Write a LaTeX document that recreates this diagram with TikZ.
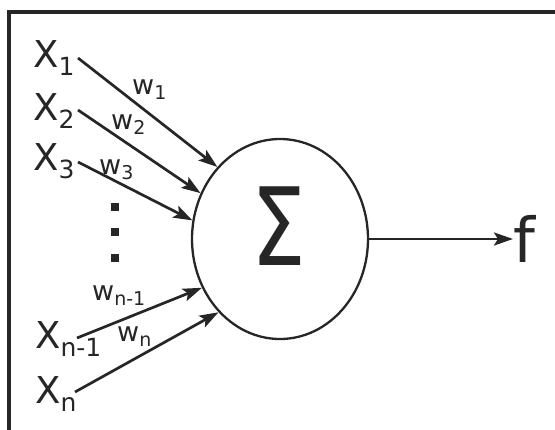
\documentclass[tikz,border=0pt]{standalone}
\usepackage{fontspec}
\setmainfont{DejaVu Sans}
\usetikzlibrary{shapes.geometric,arrows.meta}
\newcommand\lsub[1]{\raisebox{-0.24em}{\fontsize{25}{25}\selectfont #1}}
\newcommand\wsub[1]{\raisebox{-0.22em}{\fontsize{19}{19}\selectfont #1}}
\definecolor{ink}{HTML}{262626}
\begin{document}
\begin{tikzpicture}[x=1pt,y=-1pt,
  lbl/.style={inner sep=0, anchor=base west, text=ink, font=\fontsize{37}{37}\selectfont},
  wl/.style={inner sep=0, anchor=base west, text=ink, font=\fontsize{27}{27}\selectfont},
  con/.style={draw=ink, line width=2.7pt, -{Stealth[length=19pt,width=13pt,inset=4pt]}},
  dotbox/.style={fill=ink, inner sep=0, minimum size=8pt},
]
\useasboundingbox (0,0) rectangle (555,429);
\clip (0,0) rectangle (555,429);
\draw[draw=ink, line width=3.2pt] (9,12) rectangle (580,450);

\node[ellipse, draw=ink, line width=2.3pt, minimum width=176pt, minimum height=200pt, inner sep=0] (s) at (280,239) {};
\node[inner sep=0, text=ink, font=\fontsize{108}{108}\selectfont] (sig) at (279,226) {\scalebox{0.8}[1]{Σ}};

\node[lbl] (x1) at (33,67) {X\lsub{1}};
\node[lbl] (x2) at (33,120) {X\lsub{2}};
\node[lbl] (x3) at (33,170) {X\lsub{3}};
\node[lbl] (xn1) at (35,348) {X\lsub{n-1}};
\node[lbl] (xn) at (35,403) {X\lsub{n}};

\node[wl] (w1) at (132,94) {w\wsub{1}};
\node[wl] (w2) at (111,129) {w\wsub{2}};
\node[wl] (w3) at (99,174) {w\wsub{3}};
\node[wl] (wn1) at (92,300) {w\wsub{n-1}};
\node[wl] (wn) at (117,341) {w\wsub{n}};

\node[dotbox] (d1) at (115,207) {};
\node[dotbox] (d2) at (115,232) {};
\node[dotbox] (d3) at (115,258) {};

\coordinate (a1) at (78,58);
\coordinate (a2) at (78,110);
\coordinate (a3) at (78,162);
\coordinate (an1) at (77,338);
\coordinate (an) at (75,392);

\draw[con] (a1) -- (s.131);
\draw[con] (a2) -- (s.150);
\draw[con] (a3) -- (s.168);
\draw[con] (an1) -- (s.212);
\draw[con] (an) -- (s.230);

\node[inner sep=0, anchor=base west, text=ink, font=\fontsize{62}{62}\selectfont] (f) at (513,262) {f};
\coordinate (fin) at (513,239);
\draw[con] (s.east) -- (fin);
\end{tikzpicture}
\end{document}
